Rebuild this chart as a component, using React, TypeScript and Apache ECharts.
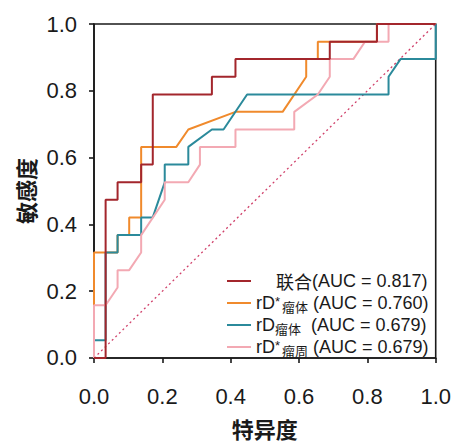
import React, { useEffect, useRef } from "react";
import * as echarts from "echarts";

// ROC curve points: false positive rate (x) and true positive rate (y)
const combinedX = [0, 0.034, 0.034, 0.069, 0.069, 0.138, 0.138, 0.172, 0.172, 0.345, 0.345, 0.414, 0.414, 0.69, 0.69, 0.828, 0.828, 1];
const combinedY = [0, 0, 0.474, 0.474, 0.526, 0.526, 0.579, 0.579, 0.789, 0.789, 0.842, 0.842, 0.895, 0.895, 0.947, 0.947, 1, 1];

const rdStarTumorX = [0, 0, 0.034, 0.069, 0.069, 0.103, 0.103, 0.138, 0.138, 0.241, 0.276, 0.414, 0.552, 0.621, 0.621, 0.655, 0.655, 0.69, 0.828, 0.828, 1];
const rdStarTumorY = [0, 0.316, 0.316, 0.316, 0.368, 0.368, 0.421, 0.421, 0.632, 0.632, 0.684, 0.737, 0.737, 0.842, 0.895, 0.895, 0.947, 0.947, 0.947, 1, 1];

const rdTumorX = [0, 0, 0.034, 0.034, 0.069, 0.069, 0.138, 0.138, 0.172, 0.207, 0.207, 0.276, 0.276, 0.345, 0.379, 0.448, 0.862, 0.862, 0.897, 1, 1];
const rdTumorY = [0, 0.053, 0.053, 0.316, 0.316, 0.368, 0.368, 0.421, 0.421, 0.526, 0.579, 0.579, 0.632, 0.684, 0.684, 0.789, 0.789, 0.842, 0.895, 0.895, 1];

const rdStarPeriX = [0, 0, 0.034, 0.069, 0.069, 0.103, 0.138, 0.138, 0.207, 0.207, 0.276, 0.31, 0.31, 0.414, 0.414, 0.586, 0.586, 0.655, 0.69, 0.69, 0.759, 0.793, 0.862, 0.862, 1];
const rdStarPeriY = [0, 0.158, 0.158, 0.211, 0.263, 0.263, 0.316, 0.368, 0.474, 0.526, 0.526, 0.579, 0.632, 0.632, 0.684, 0.684, 0.737, 0.789, 0.842, 0.895, 0.895, 0.947, 0.947, 1, 1];

const refX = [0, 1];
const refY = [0, 1];

const seriesNames = ["联合", "rD*瘤体", "rD瘤体", "rD*瘤周"];
const aucLabels = ["(AUC = 0.817)", " (AUC = 0.760)", "  (AUC = 0.679)", " (AUC = 0.679)"];
const tickValues = [0, 0.2, 0.4, 0.6, 0.8, 1.0];

const zip = (xs: number[], ys: number[]) => xs.map((x, i) => [x, ys[i]]);

const FONT = "'Liberation Sans', Arial, 'Noto Sans CJK SC', sans-serif";

export default function App() {
  const ref = useRef<HTMLDivElement>(null);
  useEffect(() => {
    document.body.style.margin = "0";
    if (!ref.current) return;
    const chart = echarts.init(ref.current, undefined, { renderer: "svg" });
    const axisCommon = {
      type: "value" as const,
      min: tickValues[0],
      max: tickValues[tickValues.length - 1],
      interval: 0.2,
      splitLine: { show: false },
      axisLine: { show: true, lineStyle: { color: "#1a1a1a", width: 1.6 } },
      axisTick: { show: true, length: 5, lineStyle: { color: "#1a1a1a", width: 1.6 } },
      axisLabel: {
        color: "#1a1a1a",
        fontSize: 22,
        fontFamily: FONT,
        formatter: (v: number) => v.toFixed(1),
      },
      nameLocation: "middle" as const,
      nameTextStyle: {
        color: "#1a1a1a",
        fontSize: 22,
        fontWeight: "bold" as const,
        fontFamily: "'Noto Sans CJK SC', sans-serif",
      },
    };
    const lineSeries = (name: string, data: number[][], color: string) => ({
      name,
      type: "line" as const,
      data,
      symbol: "none",
      showSymbol: false,
      lineStyle: { color, width: 2 },
      itemStyle: { color },
    });
    const richFmt = (name: string) => {
      const i = seriesNames.indexOf(name);
      const auc = aucLabels[i];
      if (i === 0) return `{cn|联合}{a|${auc}}`;
      if (i === 1) return `{a|rD}{sup|*}{sub|瘤体}{a|${auc}}`;
      if (i === 2) return `{a|rD}{sub|瘤体}{a|${auc}}`;
      return `{a|rD}{sup|*}{sub|瘤周}{a|${auc}}`;
    };
    chart.setOption({
      animation: false,
      backgroundColor: "#ffffff",
      grid: {
        left: 94,
        top: 24,
        width: 342,
        height: 343,
        show: true,
        borderColor: "#1a1a1a",
        borderWidth: 1.6,
      },
      xAxis: {
        ...axisCommon,
        name: "特异度",
        nameGap: 59,
        axisLabel: { ...axisCommon.axisLabel, margin: 27 },
      },
      yAxis: {
        ...axisCommon,
        name: "敏感度",
        nameGap: 52,
        axisLabel: { ...axisCommon.axisLabel, margin: 17 },
      },
      legend: {
        orient: "vertical",
        left: 222,
        top: 265,
        icon: "rect",
        itemWidth: 24,
        itemHeight: 2,
        itemGap: 0,
        data: seriesNames,
        formatter: richFmt,
        textStyle: {
          color: "#1a1a1a",
          fontFamily: FONT,
          fontSize: 18,
          lineHeight: 22,
          rich: {
            a: { fontSize: 18, fontFamily: FONT, color: "#1a1a1a", lineHeight: 22 },
            cn: { fontSize: 18, fontFamily: "'Noto Sans CJK SC', serif", color: "#1a1a1a", lineHeight: 22, padding: [0, 0, 0, 20] },
            sup: { fontSize: 13, fontFamily: FONT, color: "#1a1a1a", verticalAlign: "top", lineHeight: 13, padding: [3, 2, 0, 0] },
            sub: { fontSize: 13, fontFamily: "'Noto Sans CJK SC', sans-serif", color: "#1a1a1a", verticalAlign: "bottom", lineHeight: 13, padding: [0, 0, 1, 0] },
          },
        },
      },
      series: [
        {
          type: "line",
          data: zip(refX, refY),
          symbol: "none",
          silent: true,
          lineStyle: { color: "#d0406a", width: 1.3, type: [2, 3] },
        },
        lineSeries(seriesNames[1], zip(rdStarTumorX, rdStarTumorY), "#f08a2c"),
        lineSeries(seriesNames[2], zip(rdTumorX, rdTumorY), "#2b8a9b"),
        lineSeries(seriesNames[3], zip(rdStarPeriX, rdStarPeriY), "#f3a9b3"),
        lineSeries(seriesNames[0], zip(combinedX, combinedY), "#a3262c"),
      ],
    });
    return () => chart.dispose();
  }, []);
  return <div ref={ref} style={{ width: 454, height: 444 }} />;
}
